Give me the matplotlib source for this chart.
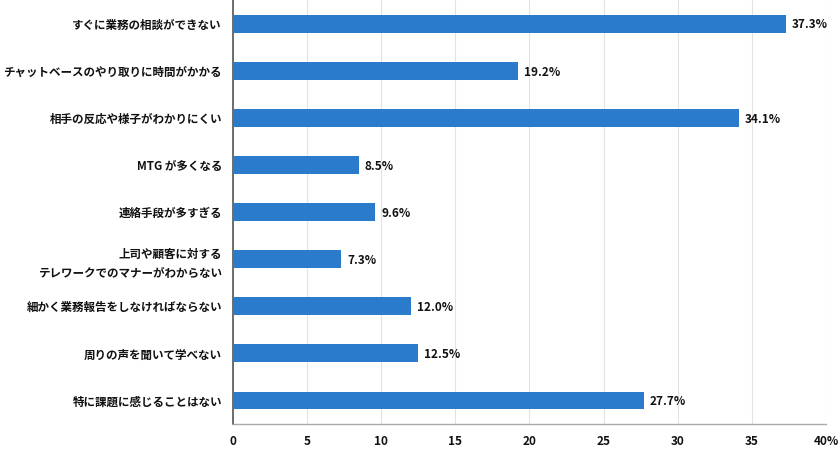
import matplotlib.pyplot as plt

plt.rcParams['font.family'] = ['Noto Sans CJK JP', 'DejaVu Sans']

labels = [
    "すぐに業務の相談ができない",
    "チャットベースのやり取りに時間がかかる",
    "相手の反応や様子がわかりにくい",
    "MTG が多くなる",
    "連絡手段が多すぎる",
    "上司や顧客に対する\nテレワークでのマナーがわからない",
    "細かく業務報告をしなければならない",
    "周りの声を聞いて学べない",
    "特に課題に感じることはない",
]
values = [37.3, 19.2, 34.1, 8.5, 9.6, 7.3, 12.0, 12.5, 27.7]
xticks = [0, 5, 10, 15, 20, 25, 30, 35, 40]
xtick_labels = ["0", "5", "10", "15", "20", "25", "30", "35", "40%"]

fig = plt.figure(figsize=(8.4, 4.54), dpi=100)
ax = fig.add_axes([0.2774, 0.066, 0.7059, 0.934])

pos = list(range(len(labels)))
ax.barh(pos, values, height=0.38, color="#2b7bcd", zorder=3)
for p, v in zip(pos, values):
    ax.text(v + 0.4, p + 0.03, f"{v:.1f}%", va="center", ha="left",
            fontsize=8.5, fontweight="bold", color="#111111")

ax.set_ylim(8.5, -0.5)
ax.set_xlim(0, 40)
ax.set_yticks(pos)
ax.set_yticklabels(labels, fontsize=8.3, fontweight="bold", color="#111111",
                   linespacing=1.6)
ax.set_xticks(xticks)
ax.set_xticklabels(xtick_labels, fontsize=8.5, fontweight="bold", color="#111111")
ax.tick_params(axis="x", length=0, pad=8)
ax.tick_params(axis="y", length=0, pad=8)

ax.grid(axis="x", color="#e3e3e3", linewidth=0.8, zorder=0)
ax.spines["top"].set_visible(False)
ax.spines["right"].set_visible(False)
ax.spines["left"].set_color("#555555")
ax.spines["left"].set_linewidth(1.2)
ax.spines["bottom"].set_color("#aaaaaa")
ax.spines["bottom"].set_linewidth(1.0)

fig.savefig("out.png", dpi=100)
